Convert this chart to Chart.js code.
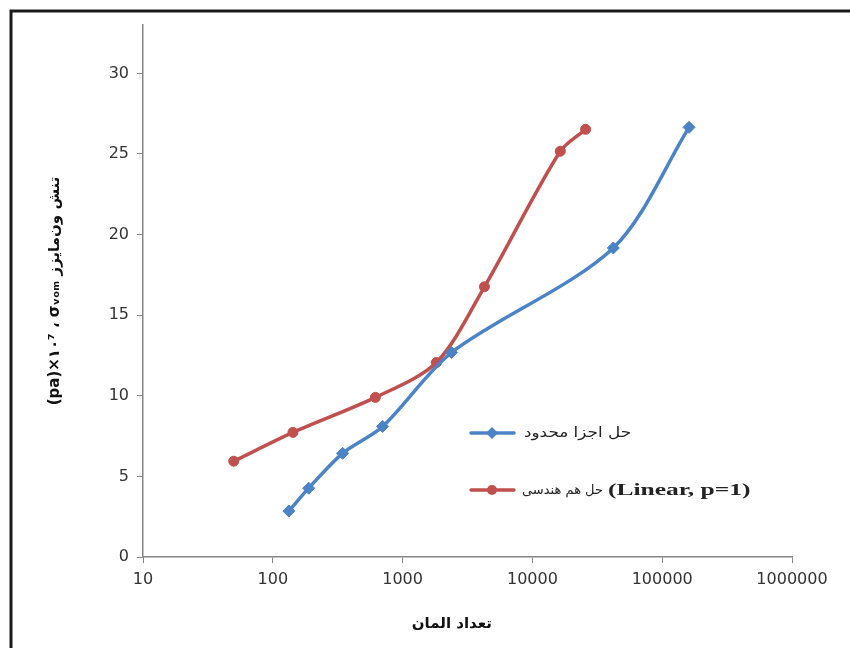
<!DOCTYPE html>
<html lang="fa">
<head>
    <meta charset="UTF-8">
    <title>تنش ون‌مایزز</title>
    <script src="https://cdn.jsdelivr.net/npm/chart.js"></script>
    <style>
        html, body { margin: 0; padding: 0; background: #fff; }
        #wrap { width: 850px; height: 648px; direction: ltr; }
    </style>
</head>
<body>
    <div id="wrap">
        <canvas id="stress"></canvas>
    </div>

    <script>
        // تعداد المان ها و تنش (x1e7 pa)
        const femElements = [133, 189, 345, 702, 2380, 42000, 161000];
        const femStress   = [2.85, 4.27, 6.43, 8.1, 12.68, 19.17, 26.65];
        const igaElements = [50, 143, 617, 1820, 4270, 16400, 25700];
        const igaStress   = [5.94, 7.73, 9.9, 12.06, 16.76, 25.17, 26.53];

        const xTicks = [10, 100, 1000, 10000, 100000, 1000000];
        const yTicks = [0, 5, 10, 15, 20, 25, 30];

        const femLabel = 'حل اجزا محدود';
        const igaLabel = 'حل هم هندسی';
        const igaNote  = '(Linear, p=1)';

        const blue = '#4A84C6';
        const red  = '#C0504D';

        function toPoints(xs, ys) {
            return xs.map((x, i) => ({ x: x, y: ys[i] }));
        }

        // قاب دور نمودار
        const framePlugin = {
            id: 'frame',
            beforeDraw(chart) {
                const ctx = chart.ctx;
                ctx.save();
                ctx.fillStyle = '#fff';
                ctx.fillRect(0, 0, chart.width, chart.height);
                ctx.strokeStyle = '#1a1a1a';
                ctx.lineWidth = 3;
                ctx.beginPath();
                ctx.moveTo(11, chart.height + 2);
                ctx.lineTo(11, 11);
                ctx.lineTo(chart.width + 2, 11);
                ctx.stroke();
                ctx.restore();
            }
        };

        // راهنما داخل نمودار
        const legendPlugin = {
            id: 'insideLegend',
            afterDraw(chart) {
                const ctx = chart.ctx;
                const rows = [
                    { ds: chart.data.datasets[0], y: 433 },
                    { ds: chart.data.datasets[1], y: 490 }
                ];
                ctx.save();
                rows.forEach(r => {
                    ctx.strokeStyle = r.ds.borderColor;
                    ctx.lineWidth = 3.5;
                    ctx.lineCap = 'round';
                    ctx.beginPath();
                    ctx.moveTo(471, r.y);
                    ctx.lineTo(514, r.y);
                    ctx.stroke();
                    ctx.fillStyle = r.ds.pointBackgroundColor;
                    ctx.beginPath();
                    if (r.ds.pointStyle === 'rectRot') {
                        ctx.moveTo(492, r.y - 6);
                        ctx.lineTo(498, r.y);
                        ctx.lineTo(492, r.y + 6);
                        ctx.lineTo(486, r.y);
                        ctx.closePath();
                    } else {
                        ctx.arc(492, r.y, 5, 0, Math.PI * 2);
                    }
                    ctx.fill();
                });
                ctx.fillStyle = '#222';
                ctx.textBaseline = 'middle';
                ctx.font = '14px "DejaVu Sans"';
                ctx.textAlign = 'left';
                ctx.save();
                ctx.translate(524, 433);
                ctx.scale(1.2, 1);
                ctx.fillText(femLabel, 0, 0);
                ctx.restore();
                ctx.font = '13px "DejaVu Sans"';
                ctx.textAlign = 'right';
                ctx.fillText(igaLabel, 603, 491);
                ctx.textAlign = 'left';
                ctx.font = 'bold 17px "Liberation Serif"';
                ctx.translate(608, 491);
                ctx.scale(1.5, 1);
                ctx.fillText(igaNote, 0, 0);
                ctx.restore();
            }
        };

        const ctx = document.getElementById('stress').getContext('2d');
        new Chart(ctx, {
            type: 'scatter',
            data: {
                datasets: [{
                    label: femLabel,
                    data: toPoints(femElements, femStress),
                    showLine: true,
                    tension: 0.3,
                    borderColor: blue,
                    borderWidth: 3.5,
                    pointStyle: 'rectRot',
                    pointRadius: 6,
                    pointBackgroundColor: blue,
                    pointBorderColor: blue,
                    pointBorderWidth: 1
                }, {
                    label: igaLabel + ' ' + igaNote,
                    data: toPoints(igaElements, igaStress),
                    showLine: true,
                    tension: 0.3,
                    borderColor: red,
                    borderWidth: 3.5,
                    pointStyle: 'circle',
                    pointRadius: 5,
                    pointBackgroundColor: red,
                    pointBorderColor: red,
                    pointBorderWidth: 1
                }]
            },
            options: {
                responsive: true,
                maintainAspectRatio: false,
                animation: false,
                layout: {
                    padding: { left: 12, top: 25, right: 58, bottom: 0 }
                },
                plugins: {
                    legend: { display: false },
                    tooltip: { enabled: false }
                },
                scales: {
                    x: {
                        type: 'logarithmic',
                        min: 10,
                        max: 1000000,
                        afterBuildTicks: s => { s.ticks = xTicks.map(v => ({ value: v })); },
                        afterFit: s => { s.height = 91; },
                        border: { color: '#868686', width: 1.5 },
                        grid: { drawOnChartArea: false, tickLength: 6, color: '#868686' },
                        ticks: {
                            color: '#333',
                            font: { family: 'DejaVu Sans', size: 16 },
                            padding: 7,
                            maxRotation: 0,
                            callback: v => String(v)
                        },
                        title: {
                            display: true,
                            // فاصله های انتهایی عنوان را کمی به چپ می برد
                            text: 'تعداد المان' + '\u00a0'.repeat(6),
                            color: '#111',
                            font: { family: 'DejaVu Sans', size: 15, weight: 'bold' },
                            padding: { top: 6, bottom: 15 }
                        }
                    },
                    y: {
                        min: 0,
                        max: 33,
                        afterBuildTicks: s => { s.ticks = yTicks.map(v => ({ value: v })); },
                        afterFit: s => { s.width = 131; },
                        border: { color: '#868686', width: 1.5 },
                        grid: { drawOnChartArea: false, tickLength: 6, color: '#868686' },
                        ticks: {
                            color: '#333',
                            font: { family: 'DejaVu Sans', size: 16 },
                            padding: 8
                        },
                        title: {
                            display: true,
                            text: '(pa)×۱۰⁷ ، σᵥₒₘ تنش ون‌مایزز',
                            color: '#111',
                            font: { family: 'DejaVu Sans', size: 15, weight: 'bold' },
                            padding: { top: 34, bottom: 0 }
                        }
                    }
                }
            },
            plugins: [framePlugin, legendPlugin]
        });
    </script>
</body>
</html>
